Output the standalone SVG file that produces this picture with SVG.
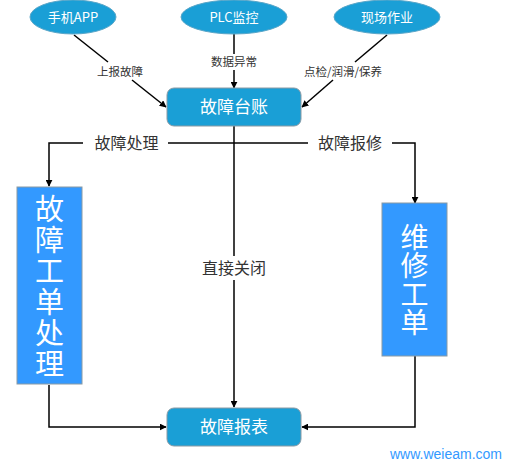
<svg xmlns="http://www.w3.org/2000/svg" width="511" height="467" viewBox="0 0 511 467">
<defs>
<marker id="arr" viewBox="0 0 10 10" refX="9" refY="5" markerWidth="7" markerHeight="7" markerUnits="userSpaceOnUse" orient="auto"><path d="M0,0 L10,5 L0,10 Z" fill="#000"/></marker>
<style>
.ell{fill:#1a9fd6;stroke:#5aa6c8;stroke-width:1}
.rr{fill:#1a9fd6;stroke:#8a9aa4;stroke-width:1}
.vb{fill:#3399ff;stroke:#8a9aa4;stroke-width:1}
.wt{font-family:"Noto Sans CJK SC","Liberation Sans",sans-serif;fill:#fff;text-anchor:middle}
.vt{font-family:"Noto Sans CJK SC",sans-serif;fill:#fff;text-anchor:middle;writing-mode:tb}
.lb{font-family:"Noto Sans CJK SC","Liberation Sans",sans-serif;fill:#333;text-anchor:middle}
.ln{fill:none;stroke:#000;stroke-width:1.5}
</style>
</defs>
<rect width="511" height="467" fill="#fff"/>
<g id="connectors">
<path class="ln" d="M74,35 L108,62"/>
<path class="ln" d="M132,80 L166,107" marker-end="url(#arr)"/>
<path class="ln" d="M234,34 L234,54"/>
<path class="ln" d="M234,70 L234,88" marker-end="url(#arr)"/>
<path class="ln" d="M387,35 L355,62"/>
<path class="ln" d="M333,80 L302,107" marker-end="url(#arr)"/>
<path class="ln" d="M234,126 L234,256"/>
<path class="ln" d="M234,280 L234,407" marker-end="url(#arr)"/>
<path class="ln" d="M83,143 L49,143 L49,186" marker-end="url(#arr)"/>
<path class="ln" d="M168,143 L308,143"/>
<path class="ln" d="M392,143 L415,143 L415,203" marker-end="url(#arr)"/>
<path class="ln" d="M49,385 L49,427 L166,427" marker-end="url(#arr)"/>
<path class="ln" d="M415,356 L415,427 L302,427" marker-end="url(#arr)"/>
</g>
<g id="labels">
<text class="lb" x="120" y="76" font-size="11.5">上报故障</text>
<text class="lb" x="234" y="66" font-size="11.5">数据异常</text>
<text class="lb" x="343" y="76" font-size="11.5">点检/润滑/保养</text>
<text class="lb" x="126.5" y="149" font-size="16">故障处理</text>
<text class="lb" x="350" y="149" font-size="16">故障报修</text>
<text class="lb" x="234" y="274" font-size="16">直接关闭</text>
</g>
<g id="n-app"><ellipse class="ell" cx="73" cy="17" rx="43" ry="17"/><text class="wt" x="73" y="22" font-size="13">手机APP</text></g>
<g id="n-plc"><ellipse class="ell" cx="234" cy="17" rx="53" ry="17"/><text class="wt" x="234" y="22" font-size="13">PLC监控</text></g>
<g id="n-site"><ellipse class="ell" cx="387" cy="17" rx="53" ry="17"/><text class="wt" x="387" y="22" font-size="13">现场作业</text></g>
<g id="n-ledger"><rect class="rr" x="167" y="88" width="134" height="38" rx="7"/><text class="wt" x="234" y="113" font-size="17">故障台账</text></g>
<g id="n-handle"><rect class="vb" x="17" y="187" width="65" height="197"/>
<text class="vt" x="49.5" y="287" font-size="29" letter-spacing="2">故障工单处理</text></g>
<g id="n-repair"><rect class="vb" x="382" y="203" width="65" height="153"/>
<text class="vt" x="414.5" y="280" font-size="28" letter-spacing="0.5">维修工单</text></g>
<g id="n-report"><rect class="rr" x="167" y="408" width="134" height="38" rx="7"/><text class="wt" x="234" y="433" font-size="17">故障报表</text></g>
<text x="502" y="459" font-family="Liberation Sans, sans-serif" font-size="14" fill="#3399ff" text-anchor="end">www.weieam.com</text>
</svg>
